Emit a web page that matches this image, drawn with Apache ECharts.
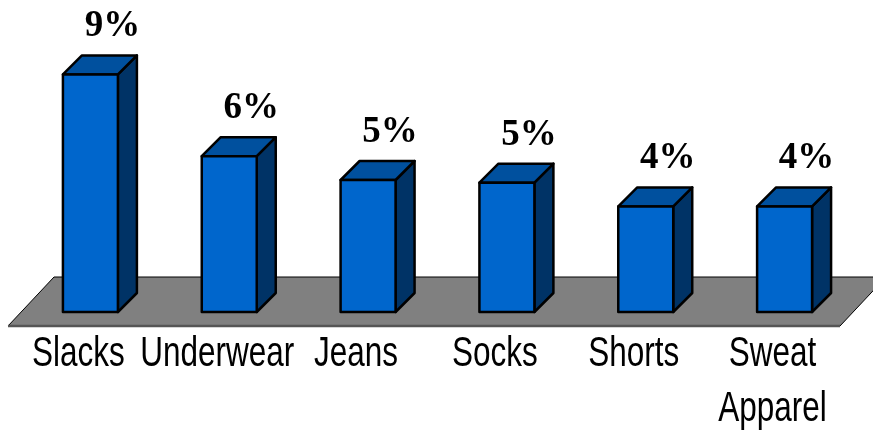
<!DOCTYPE html>
<html><head><meta charset="utf-8">
<script src="https://cdn.jsdelivr.net/npm/echarts@6/dist/echarts.min.js"></script>
<style>html,body{margin:0;padding:0;background:#fff}#c{width:873px;height:435px}</style>
</head><body><div id="c"></div>
<script>
const categories = ['Slacks', 'Underwear', 'Jeans', 'Socks', 'Shorts', 'Sweat\nApparel'];
const shares = [9.0, 5.9, 5.0, 4.9, 4.0, 4.0];
const valueLabels = ['9%', '6%', '5%', '5%', '4%', '4%'];

const DX = 19, DY = 19;
const chart = echarts.init(document.getElementById('c'), null, { renderer: 'canvas' });

function renderFloor(params, api) {
  const cs = params.coordSys;
  const bottom = cs.y + cs.height;
  const fy = bottom + 14, by = bottom - 35;
  const lx = cs.x - 13, rx = cs.x + cs.width - 14;
  const sh = 46;
  return { type: 'group', children: [
    { type: 'polygon', shape: { points: [[lx, fy], [lx + sh, by], [rx + sh, by], [rx, fy]] },
      style: { fill: '#808080', stroke: '#000', lineWidth: 1 } },
    { type: 'line', shape: { x1: lx, y1: fy, x2: rx, y2: fy }, style: { stroke: '#555', lineWidth: 2.5 } }
  ] };
}

function renderBar(params, api) {
  const i = api.value(0), v = api.value(1);
  const top = api.coord([i, v]);
  const base = api.coord([i, 0]);
  const w = api.size([1, 0])[0] * 0.396;
  const l = top[0] - w / 2, r = top[0] + w / 2, t = top[1], b = base[1];
  const s = { stroke: '#000', lineWidth: 2.5, lineJoin: 'round' };
  return { type: 'group', children: [
    { type: 'polygon', shape: { points: [[r, t], [r + DX, t - DY], [r + DX, b - DY], [r, b]] },
      style: Object.assign({ fill: '#003366' }, s) },
    { type: 'polygon', shape: { points: [[l, t], [l + DX, t - DY], [r + DX, t - DY], [r, t]] },
      style: Object.assign({ fill: '#00509E' }, s) },
    { type: 'rect', shape: { x: l, y: t, width: w, height: b - t },
      style: Object.assign({ fill: '#0066CC' }, s) },
    { type: 'text', x: top[0] + 22, y: t - 29,
      style: { text: valueLabels[params.dataIndex], fontSize: 37, fontWeight: 'bold',
        fontFamily: '"Liberation Serif", serif',
        fill: '#000', align: 'center', verticalAlign: 'bottom' } },
    { type: 'text', x: top[0] - 12, y: b + 15, scaleX: 0.75,
      style: { text: categories[params.dataIndex], fontSize: 42, lineHeight: 55,
        fontFamily: '"Liberation Sans", Arial, sans-serif',
        fill: '#000', align: 'center', verticalAlign: 'top' } }
  ] };
}

chart.setOption({
  animation: false,
  backgroundColor: '#fff',
  grid: { left: 21, right: 19, top: 48, bottom: 123 },
  xAxis: {
    type: 'category', data: categories,
    axisLine: { show: false }, axisTick: { show: false }, splitLine: { show: false },
    axisLabel: { show: false }
  },
  yAxis: { type: 'value', min: 0, max: 10, show: false },
  series: [
    { type: 'custom', renderItem: renderFloor, data: [[0, 0]], z: 1, silent: true },
    { type: 'custom', renderItem: renderBar, data: shares.map((v, i) => [i, v]), z: 2 }
  ]
});
</script></body></html>
